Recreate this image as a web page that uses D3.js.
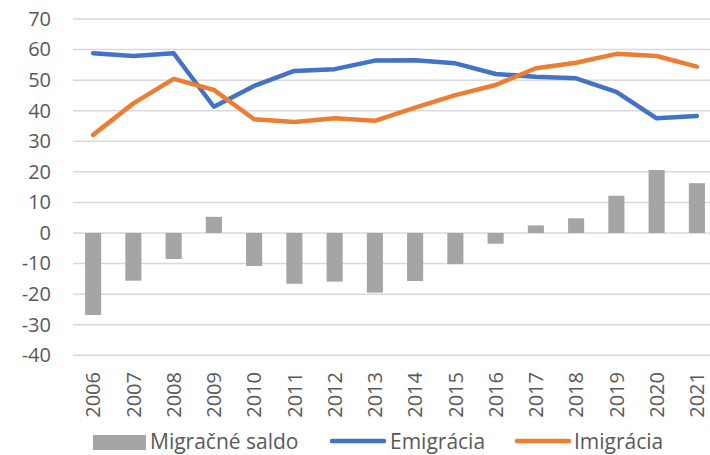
<!DOCTYPE html>
<html>
<head>
<meta charset="utf-8">
<script src="https://cdn.jsdelivr.net/npm/d3@7"></script>
<style>
  body { margin: 0; background: #fff; }
  text { font-family: "Open Sans", sans-serif; fill: #595959; }
</style>
</head>
<body>
<div id="chart"></div>
<script>
// values
var years = ["2006","2007","2008","2009","2010","2011","2012","2013","2014","2015","2016","2017","2018","2019","2020","2021"];
var saldo = [-26.8,-15.6,-8.5,5.3,-10.8,-16.6,-15.9,-19.5,-15.7,-10.2,-3.5,2.5,4.8,12.2,20.6,16.3];
var emigracia = [58.8,57.9,58.8,41.3,48.1,53.0,53.6,56.4,56.5,55.5,52.0,51.1,50.6,46.2,37.5,38.3];
var imigracia = [32.1,42.4,50.4,46.8,37.2,36.3,37.5,36.7,41.0,45.1,48.4,53.9,55.7,58.6,57.9,54.4];
var yTicks = [-40,-30,-20,-10,0,10,20,30,40,50,60,70];
var legendNames = ["Migračné saldo","Emigrácia","Imigrácia"];

var W = 710, H = 455;
var colBar = "#a5a5a5", colEmi = "#4472c4", colImi = "#ed7d31";

var svg = d3.select("#chart").append("svg")
  .attr("width", W).attr("height", H);

var x = d3.scaleBand()
  .domain(years)
  .range([73, 717])
  .paddingInner(0.6)
  .paddingOuter(0.3);

var y = d3.scaleLinear()
  .domain([-40, 70])
  .range([355.3, 19]);

// gridlines
svg.append("g").selectAll("line")
  .data(yTicks)
  .enter().append("line")
  .attr("x1", 73).attr("x2", 717)
  .attr("y1", function(d){ return y(d); })
  .attr("y2", function(d){ return y(d); })
  .attr("stroke", "#d9d9d9")
  .attr("stroke-width", 1.5);

// y axis labels (plain hyphen like excel)
var yAxis = svg.append("g")
  .attr("transform", "translate(51,0)")
  .call(d3.axisLeft(y).tickValues(yTicks).tickSize(0).tickPadding(0)
    .tickFormat(function(d){ return String(d); }));
yAxis.select(".domain").remove();
yAxis.selectAll("text")
  .style("font-family", '"Open Sans", sans-serif')
  .style("font-size", "20px")
  .attr("fill", "#595959");

// x axis labels
svg.append("g").selectAll("text")
  .data(years)
  .enter().append("text")
  .attr("transform", function(d){ return "translate(" + (x(d) + x.bandwidth()/2) + ",372) rotate(-90)"; })
  .attr("dy", "0.36em")
  .attr("text-anchor", "end")
  .style("font-size", "20px")
  .text(function(d){ return d; });

// bars
svg.append("g").selectAll("rect")
  .data(saldo)
  .enter().append("rect")
  .attr("x", function(d, i){ return x(years[i]); })
  .attr("width", x.bandwidth())
  .attr("y", function(d){ return y(Math.max(0, d)); })
  .attr("height", function(d){ return Math.abs(y(d) - y(0)); })
  .attr("fill", colBar);

// lines
var line = d3.line()
  .x(function(d, i){ return x(years[i]) + x.bandwidth()/2; })
  .y(function(d){ return y(d); });

[[emigracia, colEmi], [imigracia, colImi]].forEach(function(s){
  svg.append("path")
    .attr("d", line(s[0]))
    .attr("fill", "none")
    .attr("stroke", s[1])
    .attr("stroke-width", 4.5)
    .attr("stroke-linejoin", "round")
    .attr("stroke-linecap", "round");
});

// legend
var ly = 449;
var lg = svg.append("g");
lg.append("rect")
  .attr("x", 93).attr("y", ly - 14).attr("width", 53).attr("height", 15)
  .attr("fill", colBar);
lg.append("text").attr("x", 150).attr("y", ly)
  .style("font-size", "21px").text(legendNames[0]);

lg.append("line")
  .attr("x1", 332).attr("x2", 384).attr("y1", ly - 8).attr("y2", ly - 8)
  .attr("stroke", colEmi).attr("stroke-width", 4.5).attr("stroke-linecap", "round");
lg.append("text").attr("x", 390).attr("y", ly)
  .style("font-size", "21px").text(legendNames[1]);

lg.append("line")
  .attr("x1", 517).attr("x2", 569).attr("y1", ly - 8).attr("y2", ly - 8)
  .attr("stroke", colImi).attr("stroke-width", 4.5).attr("stroke-linecap", "round");
lg.append("text").attr("x", 574).attr("y", ly)
  .style("font-size", "21px").text(legendNames[2]);
</script>
</body>
</html>
